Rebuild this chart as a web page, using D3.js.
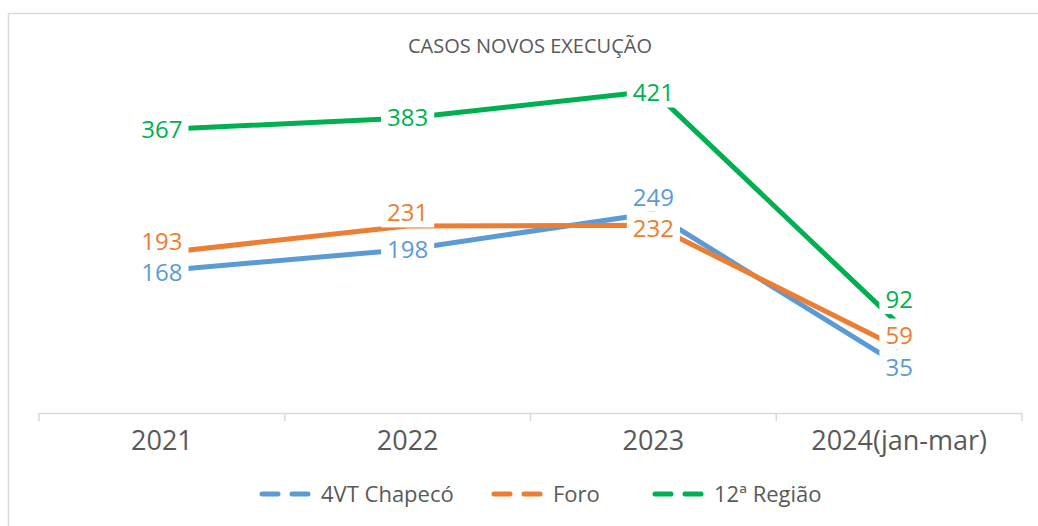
<!DOCTYPE html>
<html>
<head>
<meta charset="utf-8">
<script src="https://cdn.jsdelivr.net/npm/d3@7"></script>
<style>
  body { margin: 0; background: #fff; }
  text { font-family: "Open Sans", "Noto Sans", sans-serif; }
</style>
</head>
<body>
<div id="chart"></div>
<script>
// data
var years = ["2021", "2022", "2023", "2024(jan-mar)"];
var chapeco = [168, 198, 249, 35];
var foro = [193, 231, 232, 59];
var regiao = [367, 383, 421, 92];
var seriesNames = ["4VT Chapecó", "Foro", "12ª Região"];

// label nudges (manual placement in original), pixels
var nudgeChapeco = [2, 0, -16, 2];
var nudgeForo = [-11, -13, 3, -13];
var nudgeRegiao = [0, 0, 2, -25];

var colors = ["#5B9BD5", "#ED7D31", "#00B050"];

var W = 1038, H = 526;
var svg = d3.select("#chart").append("svg")
    .attr("width", W)
    .attr("height", H);

svg.append("rect")
    .attr("x", 8.5).attr("y", 13.5)
    .attr("width", W + 10).attr("height", H + 10)
    .attr("fill", "#fff")
    .attr("stroke", "#d9d9d9")
    .attr("stroke-width", 1.5);

svg.append("text")
    .attr("x", 530).attr("y", 53)
    .attr("text-anchor", "middle")
    .attr("font-size", 20)
    .attr("fill", "#595959")
    .text("CASOS NOVOS EXECUÇÃO");

var x = d3.scaleBand()
    .domain(years)
    .range([39, 1022]);

var y = d3.scaleLinear()
    .domain([0, 450])
    .range([390, 390 - 450 * 0.71]);

var axisY = 413;

// x axis
var xAxis = d3.axisBottom(x).tickSize(0).tickPadding(18);
var gx = svg.append("g")
    .attr("transform", "translate(0," + axisY + ")")
    .call(xAxis);
gx.select(".domain").attr("stroke", "#d9d9d9").attr("stroke-width", 1.5);
gx.selectAll("text")
    .attr("font-size", 27)
    .attr("fill", "#595959")
    .attr("font-family", "'Open Sans', sans-serif");

var bounds = years.map(function(d){ return x(d); }).concat([x.range()[1]]);
svg.selectAll(".cat-tick")
    .data(bounds)
    .enter()
    .append("line")
    .attr("class", "cat-tick")
    .attr("x1", function(d){ return d; })
    .attr("x2", function(d){ return d; })
    .attr("y1", axisY)
    .attr("y2", axisY + 8)
    .attr("stroke", "#d9d9d9")
    .attr("stroke-width", 1.5);

var series = [
    {name: seriesNames[0], values: chapeco, nudge: nudgeChapeco, color: colors[0]},
    {name: seriesNames[1], values: foro, nudge: nudgeForo, color: colors[1]},
    {name: seriesNames[2], values: regiao, nudge: nudgeRegiao, color: colors[2]}
];

var line = d3.line()
    .x(function(d, i){ return x(years[i]) + x.bandwidth() / 2; })
    .y(function(d){ return y(d); });

series.forEach(function(s){
    svg.append("path")
        .datum(s.values)
        .attr("d", line)
        .attr("fill", "none")
        .attr("stroke", s.color)
        .attr("stroke-width", 5)
        .attr("stroke-linejoin", "round");
});

// labels with white boxes
series.forEach(function(s){
    var g = svg.append("g");
    s.values.forEach(function(v, i){
        var cx = x(years[i]) + x.bandwidth() / 2;
        var cy = y(v) + s.nudge[i];
        var lab = g.append("g").attr("transform", "translate(" + cx + "," + cy + ")");
        var t = lab.append("text")
            .attr("text-anchor", "middle")
            .attr("dy", "0.35em")
            .attr("font-size", 24)
            .attr("fill", s.color)
            .text(v);
        var bb = t.node().getBBox();
        lab.insert("rect", "text")
            .attr("x", bb.x - 6).attr("y", bb.y + 1)
            .attr("width", bb.width + 12).attr("height", bb.height - 2)
            .attr("fill", "#fff");
    });
});

// legend
var legendX = [262, 494, 655];
var legend = svg.selectAll(".legend")
    .data(series)
    .enter()
    .append("g")
    .attr("class", "legend")
    .attr("transform", function(d, i){ return "translate(" + legendX[i] + ",494)"; });

legend.append("line")
    .attr("x1", 0).attr("x2", 55)
    .attr("y1", 0).attr("y2", 0)
    .attr("stroke", function(d){ return d.color; })
    .attr("stroke-width", 5)
    .attr("stroke-linecap", "round")
    .attr("stroke-dasharray", "16,14");

legend.append("text")
    .attr("x", 59)
    .attr("dy", "0.35em")
    .attr("font-size", 22)
    .attr("fill", "#595959")
    .text(function(d){ return d.name; });
</script>
</body>
</html>
